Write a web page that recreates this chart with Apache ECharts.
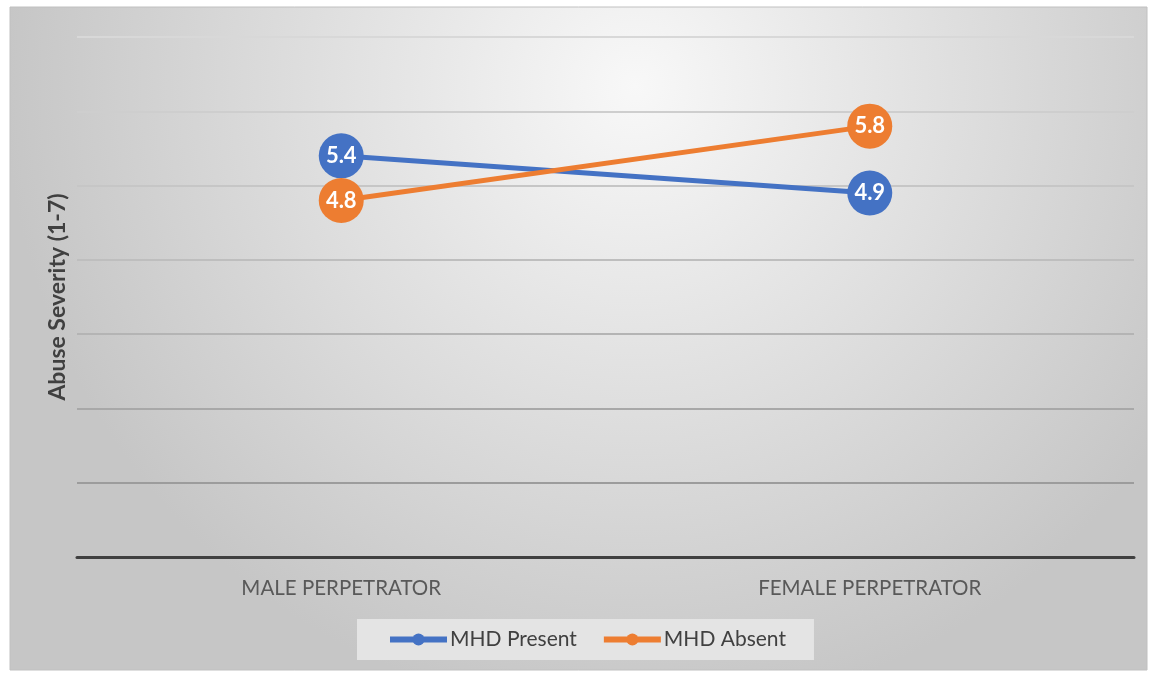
<!DOCTYPE html>
<html>
<head>
<meta charset="utf-8">
<script src="https://cdn.jsdelivr.net/npm/echarts@6/dist/echarts.min.js"></script>
<style>
  html, body { margin: 0; padding: 0; background: #fff; }
  #chart { width: 1149px; height: 673px; }
</style>
</head>
<body>
<div id="chart"></div>
<script>
const categories = ["MALE PERPETRATOR", "FEMALE PERPETRATOR"];
const mhdPresent = [5.4, 4.9];
const mhdAbsent = [4.8, 5.8];
const seriesNames = ["MHD Present", "MHD Absent"];
const colors = ["#4472c4", "#ed7d31"];

const font = "Lato, 'Open Sans', sans-serif";
const chart = echarts.init(document.getElementById("chart"), null, { renderer: "canvas" });

function lineSeries(name, data, color) {
  return {
    name,
    type: "line",
    data,
    symbol: "circle",
    symbolSize: 45,
    lineStyle: { width: 5, color },
    itemStyle: { color },
    label: {
      show: true,
      position: "inside",
      color: "#fff",
      fontSize: 22,
      fontWeight: "bold",
      fontFamily: font,
      formatter: (p) => p.value.toFixed(1),
    },
    emphasis: { disabled: true },
  };
}

chart.setOption({
  animation: false,
  graphic: [
    {
      type: "rect",
      z: -10,
      shape: { x: 10, y: 7, width: 1137, height: 663 },
      style: {
        fill: new echarts.graphic.RadialGradient(0.55, 0.12, 0.95, [
          { offset: 0, color: "#f8f8f8" },
          { offset: 1, color: "#c6c6c6" },
        ]),
        stroke: "#c0c0c0",
        lineWidth: 1,
      },
    },
  ],
  grid: { left: 77, right: 15, top: 37, bottom: 116 },
  legend: {
    left: 357,
    top: 619,
    padding: [10, 28, 10, 30],
    backgroundColor: "#e4e4e4",
    itemWidth: 57,
    itemHeight: 15,
    itemGap: 24,
    lineStyle: { width: 6 },
    textStyle: { color: "#404040", fontSize: 21, fontFamily: font, padding: [0, 0, 0, -2] },
    data: seriesNames,
  },
  xAxis: {
    type: "category",
    data: categories,
    axisLine: { lineStyle: { color: "#404040", width: 3 } },
    axisTick: { show: false },
    axisLabel: { color: "#595959", fontSize: 20.5, fontFamily: font, margin: 21 },
  },
  yAxis: {
    type: "value",
    min: 0,
    max: 7,
    interval: 1,
    name: "Abuse Severity (1-7)",
    nameLocation: "middle",
    nameGap: 8,
    nameTextStyle: { color: "#404040", fontSize: 23, fontWeight: "bold", fontFamily: font },
    axisLabel: { show: false },
    axisTick: { show: false },
    axisLine: { show: false },
    splitLine: {
      lineStyle: {
        width: 2,
        color: ["#404040", "#9c9c9c", "#a8a8a8", "#b4b4b4", "#bebebe", "#c6c6c6", "#cecece", "#d8d8d8"],
      },
    },
  },
  series: [
    lineSeries(seriesNames[0], mhdPresent, colors[0]),
    lineSeries(seriesNames[1], mhdAbsent, colors[1]),
  ],
});
</script>
</body>
</html>
